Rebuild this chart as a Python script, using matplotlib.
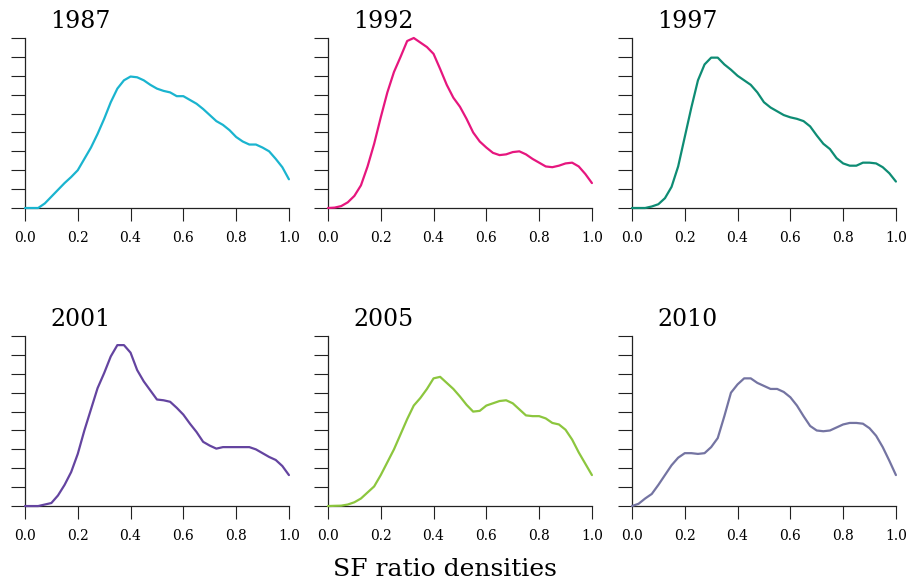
import numpy as np
import matplotlib
matplotlib.use("Agg")
import matplotlib.pyplot as plt

plt.rcParams['font.family'] = 'DejaVu Serif'

# sf ratio grid and density estimates per year
sf_ratio = np.linspace(0, 1, 41)

years = ['1987', '1992', '1997', '2001', '2005', '2010']
colors = ['#1ab4cf', '#e6167e', '#0e8c74', '#6444a0', '#8cc63e', '#7474a2']

dens_1987 = [0, 0, 0, 0.06, 0.15, 0.24, 0.33, 0.41, 0.5, 0.65, 0.8, 0.98, 1.18, 1.4,
             1.58, 1.69, 1.74, 1.73, 1.69, 1.63, 1.58, 1.55, 1.53, 1.48, 1.48, 1.43,
             1.38, 1.31, 1.23, 1.15, 1.1, 1.03, 0.94, 0.88, 0.84, 0.84, 0.8, 0.75,
             0.65, 0.54, 0.38]
dens_1992 = [0, 0.005, 0.025, 0.075, 0.16, 0.3, 0.55, 0.85, 1.2, 1.53, 1.8, 2.0,
             2.21, 2.25, 2.19, 2.13, 2.04, 1.84, 1.63, 1.46, 1.34, 1.18, 1.0, 0.88,
             0.8, 0.73, 0.7, 0.71, 0.74, 0.75, 0.71, 0.65, 0.6, 0.55, 0.54, 0.56,
             0.59, 0.6, 0.55, 0.45, 0.33]
dens_1997 = [0, 0, 0, 0.02, 0.05, 0.13, 0.28, 0.55, 0.94, 1.33, 1.69, 1.9, 1.99,
             1.99, 1.9, 1.83, 1.75, 1.69, 1.63, 1.53, 1.4, 1.33, 1.28, 1.23, 1.2,
             1.18, 1.15, 1.08, 0.96, 0.85, 0.78, 0.66, 0.59, 0.56, 0.56, 0.6, 0.6,
             0.59, 0.54, 0.46, 0.35]
dens_2001 = [0, 0, 0, 0.02, 0.04, 0.14, 0.28, 0.45, 0.69, 1.0, 1.28, 1.56, 1.76,
             1.98, 2.13, 2.13, 2.03, 1.8, 1.65, 1.53, 1.41, 1.4, 1.38, 1.3, 1.21,
             1.09, 0.98, 0.85, 0.8, 0.76, 0.78, 0.78, 0.78, 0.78, 0.78, 0.75, 0.7,
             0.65, 0.61, 0.53, 0.41]
dens_2005 = [0, 0.003, 0.005, 0.02, 0.05, 0.1, 0.18, 0.26, 0.41, 0.58, 0.75, 0.95,
             1.15, 1.33, 1.43, 1.55, 1.69, 1.71, 1.63, 1.55, 1.45, 1.34, 1.25, 1.26,
             1.33, 1.36, 1.39, 1.4, 1.36, 1.28, 1.2, 1.19, 1.19, 1.16, 1.1, 1.08,
             1.01, 0.88, 0.71, 0.56, 0.41]
dens_2010 = [0, 0.03, 0.1, 0.16, 0.28, 0.41, 0.54, 0.64, 0.7, 0.7, 0.69, 0.7, 0.78,
             0.9, 1.19, 1.5, 1.61, 1.69, 1.69, 1.63, 1.59, 1.55, 1.55, 1.51, 1.44,
             1.33, 1.19, 1.06, 1.0, 0.99, 1.0, 1.04, 1.08, 1.1, 1.1, 1.09, 1.03,
             0.93, 0.78, 0.6, 0.41]

densities = [dens_1987, dens_1992, dens_1997, dens_2001, dens_2005, dens_2010]

x_ticks = [0.0, 0.2, 0.4, 0.6, 0.8, 1.0]
y_ticks = np.arange(0, 2.26, 0.25)

fig = plt.figure(figsize=(9.08, 5.81), dpi=100)

lefts = [0.0275, 0.3612, 0.696]
bottoms = [0.642, 0.129]
w, h = 0.2907, 0.2926

for i, (year, dens, col) in enumerate(zip(years, densities, colors)):
    ax = fig.add_axes([lefts[i % 3], bottoms[i // 3], w, h])
    ax.plot(sf_ratio, dens, color=col, lw=1.6, clip_on=False, zorder=3,
            solid_joinstyle='round', solid_capstyle='round')
    ax.set_xlim(0, 1)
    ax.set_ylim(0, 2.25)
    ax.set_xticks(x_ticks)
    ax.set_xticklabels(['%.1f' % t for t in x_ticks])
    ax.set_yticks(y_ticks)
    ax.set_yticklabels([])
    for s in ['top', 'right']:
        ax.spines[s].set_visible(False)
    for s in ['left', 'bottom']:
        ax.spines[s].set_color('#222222')
        ax.spines[s].set_linewidth(0.9)
    ax.tick_params(axis='y', direction='out', length=10, width=0.8, color='#222222')
    ax.tick_params(axis='x', direction='out', length=9.5, width=0.8, color='#222222',
                   pad=7, labelsize=10)
    ax.text(0.095, 1.06, year, transform=ax.transAxes, fontsize=17,
            ha='left', va='baseline')

fig.text(0.49, 0.008, 'SF ratio densities', ha='center', va='baseline', fontsize=18)

fig.savefig('out.png', dpi=100)
